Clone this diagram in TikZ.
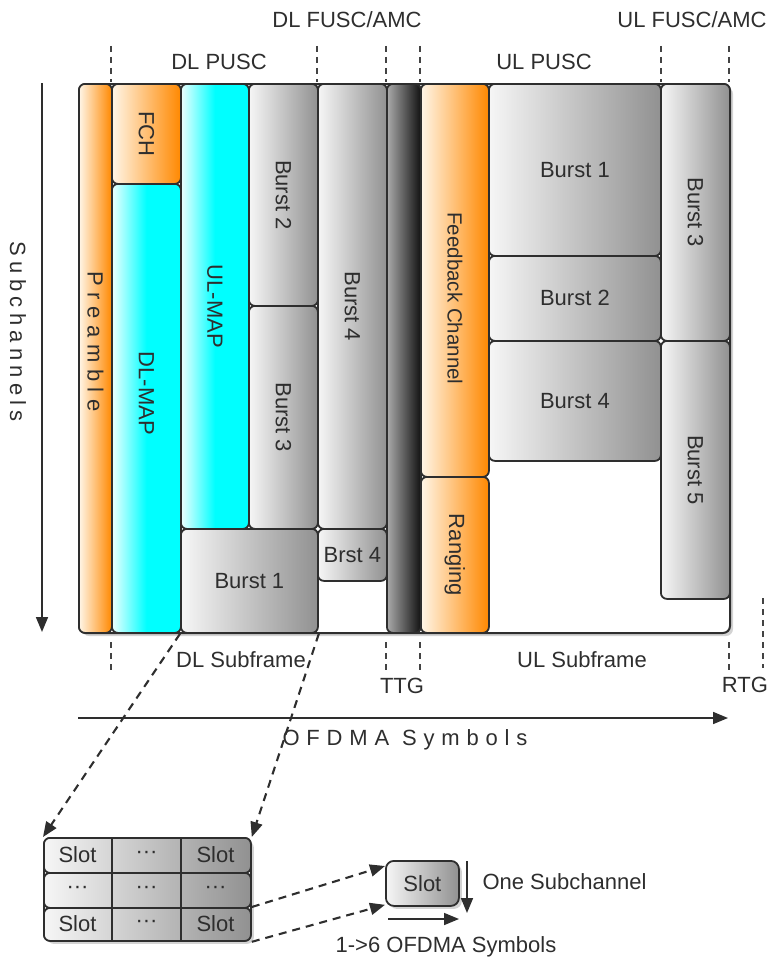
\documentclass[tikz,border=0pt]{standalone}
\usepackage{fontspec}
\setmainfont{Liberation Sans}
\usetikzlibrary{arrows.meta,shadows}
\definecolor{ink}{HTML}{2E2E2E}
\definecolor{org}{RGB}{255,136,0}
\definecolor{orgl}{RGB}{255,246,232}
\definecolor{cyl}{RGB}{238,255,255}
\definecolor{gyl}{RGB}{246,246,246}
\definecolor{gyd}{RGB}{145,145,145}
\definecolor{dkl}{RGB}{170,170,170}
\definecolor{dkd}{RGB}{18,18,18}
\tikzset{
  txt/.style={font=\fontsize{22}{26}\selectfont, text=ink},
  blkbase/.style={draw=ink, line width=1.8pt, rounded corners=6pt, inner sep=0pt, txt},
  orangeblk/.style={left color=orgl, right color=org},
  cyanblk/.style={left color=cyl, right color=cyan, middle color=cyan},
  grayblk/.style={left color=gyl, right color=gyd},
  darkblk/.style={left color=dkl, right color=dkd},
  tickline/.style={draw=ink!90, line width=1.8pt, dash pattern=on 6pt off 5pt},
  axisarrow/.style={draw=ink, line width=1.7pt, -{Triangle[length=15pt,width=12pt]}},
  dasharrow/.style={draw=ink, line width=2.1pt, dash pattern=on 8pt off 6pt, -{Triangle[length=15pt,width=12pt]}},
  shadowed/.style={drop shadow={opacity=0.35, shadow xshift=3pt, shadow yshift=-3pt}},
}
\newcommand\blk[7]{\node[blkbase,#6,anchor=north west,minimum width=#4pt,minimum height=#5pt] (#1) at (#2,#3) {#7};}
\begin{document}
\begin{tikzpicture}[x=1pt,y=-1pt]
\useasboundingbox (0,0) rectangle (771,958);

% top labels and ticks
\node[txt] (dlpusc) at (219,62) {DL PUSC};
\node[txt] (dlfusc) at (347,20) {DL FUSC/AMC};
\node[txt] (ulpusc) at (544,62) {UL PUSC};
\node[txt] (ulfusc) at (692,20) {UL FUSC/AMC};
\foreach \x in {111,317,386,420,661,729} \draw[tickline] (\x,46) -- (\x,82);
\foreach \x in {111,386,420,729} \draw[tickline] (\x,642) -- (\x,670);
\draw[tickline] (763,598) -- (763,668);

% frame
\node[draw=ink, line width=2pt, rounded corners=7pt, fill=white, shadowed,
      minimum width=651pt, minimum height=549pt, anchor=north west, inner sep=0pt] (frame) at (78,83) {};

% DL subframe
\blk{pre}{78}{83}{33}{549}{orangeblk}{\rotatebox{-90}{\addfontfeature{LetterSpace=30}Preamble\hspace{34pt}}}
\blk{fch}{111}{83}{69}{100}{orangeblk}{\rotatebox{-90}{FCH}}
\blk{dlmap}{111}{183}{69}{449}{cyanblk}{\rotatebox{-90}{DL-MAP\hspace{30pt}}}
\blk{ulmap}{180}{83}{68}{445}{cyanblk}{\rotatebox{-90}{UL-MAP}}
\blk{db2}{248}{83}{69}{222}{grayblk}{\rotatebox{-90}{Burst 2}}
\blk{db3}{248}{305}{69}{223}{grayblk}{\rotatebox{-90}{Burst 3}}
\blk{db4}{317}{83}{69}{445}{grayblk}{\rotatebox{-90}{Burst 4}}
\blk{db1}{180}{528}{137}{104}{grayblk}{Burst 1}
\blk{brst4}{317}{528}{69}{52}{grayblk}{Brst 4}
% TTG bar
\blk{ttgbar}{386}{83}{34}{549}{darkblk}{}
% UL subframe
\blk{fb}{420}{83}{68}{393}{orangeblk}{\rotatebox{-90}{\fontsize{20.5}{24}\selectfont\hspace{36pt}Feedback Channel}}
\blk{rng}{420}{476}{68}{156}{orangeblk}{\rotatebox{-90}{Ranging}}
\blk{ub1}{488}{83}{172}{172}{grayblk}{Burst 1}
\blk{ub2}{488}{255}{172}{85}{grayblk}{Burst 2}
\blk{ub4}{488}{340}{172}{120}{grayblk}{Burst 4}
\blk{ub3}{660}{83}{69}{257}{grayblk}{\rotatebox{-90}{Burst 3}}
\blk{ub5}{660}{340}{69}{258}{grayblk}{\rotatebox{-90}{Burst 5}}

% bottom labels
\node[txt] (dlsub) at (241,660) {DL Subframe};
\node[txt] (ulsub) at (582,660) {UL Subframe};
\node[txt] (ttg) at (402,686) {TTG};
\node[txt] (rtg) at (745,685) {RTG};

% axes
\coordinate (sc1) at (42,83);
\coordinate (sc2) at (42,632);
\draw[axisarrow] (sc1) -- (sc2);
\node[txt, rotate=-90] (subch) at (18,332) {\addfontfeature{LetterSpace=24}Subchannels};
\coordinate (of1) at (78,718);
\coordinate (of2) at (728,718);
\draw[axisarrow] (of1) -- (of2);
\node[txt] (ofdma) at (405,740) {\addfontfeature{LetterSpace=31}OFDMA Symbols};

% slot grid
\node[draw=ink, line width=1.8pt, rounded corners=7pt, fill=white, shadowed,
      minimum width=207pt, minimum height=103pt, anchor=north west, inner sep=0pt] (grid) at (43,837) {};
\blk{r1}{43}{837}{207}{35}{grayblk}{}
\blk{r2}{43}{872}{207}{35}{grayblk}{}
\blk{r3}{43}{907}{207}{33}{grayblk}{}
\foreach \x in {112,181} \draw[draw=ink, line width=1.6pt] (\x,837) -- (\x,940);
\node[txt] (c11) at (77.5,855) {Slot};
\node[txt] (c12) at (146.5,855) {···};
\node[txt] (c13) at (215.5,855) {Slot};
\node[txt] (c21) at (77.5,890) {···};
\node[txt] (c22) at (146.5,890) {···};
\node[txt] (c23) at (215.5,890) {···};
\node[txt] (c31) at (77.5,924) {Slot};
\node[txt] (c32) at (146.5,924) {···};
\node[txt] (c33) at (215.5,924) {Slot};

% single slot
\node[blkbase, grayblk, shadowed, rounded corners=8pt, anchor=north west,
      minimum width=73pt, minimum height=45pt] (slot) at (385,860) {Slot};
\coordinate (d1) at (467,861);
\coordinate (d2) at (467,913);
\draw[axisarrow] (d1) -- (d2);
\node[txt, anchor=west] (onesub) at (479,882) {One Subchannel};
\coordinate (h1) at (388,919);
\coordinate (h2) at (459,919);
\draw[axisarrow] (h1) -- (h2);
\node[txt] (sixsym) at (446,947) {1->6 OFDMA Symbols};

% dashed connectors
\draw[dasharrow] (db1.south west) -- (grid.north west);
\draw[dasharrow] (db1.south east) -- (grid.north east);
\draw[dasharrow] (r3.north east) -- ([yshift=-6pt]slot.north west);
\draw[dasharrow] (r3.south east) -- ([yshift=2pt]slot.south west);
\end{tikzpicture}
\end{document}
